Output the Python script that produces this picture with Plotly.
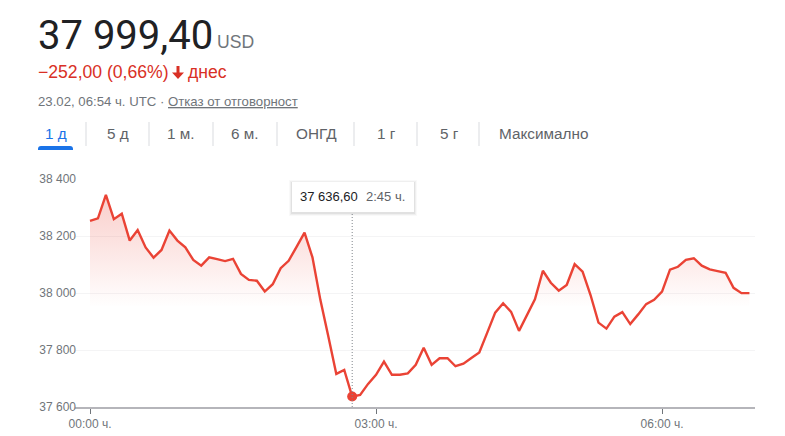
import pandas as pd
import plotly.graph_objects as go

# prices every 5 min
prices = [38253, 38262, 38344, 38259, 38278, 38184, 38221, 38160, 38124, 38151,
          38219, 38184, 38160, 38116, 38096, 38125, 38119, 38112, 38120, 38067,
          38046, 38043, 38005, 38031, 38087, 38113, 38162, 38212, 38125, 37975,
          37847, 37716, 37730, 37636.6, 37642, 37681, 37713, 37759, 37713, 37713,
          37718, 37748, 37808, 37748, 37771, 37771, 37743, 37752, 37772, 37791,
          37861, 37931, 37964, 37934, 37867, 37923, 37978, 38078, 38036, 38008,
          38028, 38101, 38075, 37993, 37896, 37875, 37917, 37933, 37891, 37925,
          37961, 37976, 38005, 38082, 38092, 38116, 38122, 38096, 38083, 38077,
          38071, 38018, 37999.4, 37999.4]
times = pd.date_range('2022-02-23 00:00', periods=len(prices), freq='5min')
y_ticks = [37600, 37800, 38000, 38200, 38400]
y_labels = ['37 600', '37 800', '38 000', '38 200', '38 400']
x_ticks = ['2022-02-23 00:00', '2022-02-23 03:00', '2022-02-23 06:00']
x_labels = ['00:00 ч.', '03:00 ч.', '06:00 ч.']
tabs = ['1 д', '5 д', '1 м.', '6 м.', 'ОНГД', '1 г', '5 г', 'Максимално']
tab_centers = [56, 118, 181, 245, 316, 386, 449, 543]
tab_separators = [86, 149, 213, 277, 354, 417, 479]
hover_index = 33

W, H = 785, 436
LEFT, RIGHT, TOP, BOTTOM = 75, 755, 179, 407
RED = '#ea4335'
TEXT_FONT = 'Liberation Sans'


def px(x):
    return (x - LEFT) / (RIGHT - LEFT)


def py(y):
    return (BOTTOM - y) / (BOTTOM - TOP)


def label(fig, x, y, text, size, color, anchor='left', font=TEXT_FONT):
    fig.add_annotation(x=px(x), y=py(y), xref='paper', yref='paper', text=text,
                       showarrow=False, xanchor=anchor, yanchor='middle',
                       font=dict(size=size, color=color, family=font),
                       borderpad=0, borderwidth=0)


def rect(fig, x0, y0, x1, y1, color, line='rgba(0,0,0,0)'):
    fig.add_shape(type='rect', xref='paper', yref='paper',
                  x0=px(x0), x1=px(x1), y0=py(y0), y1=py(y1),
                  fillcolor=color, line=dict(color=line, width=0), layer='above')


fig = go.Figure()

# invisible baseline so the gradient stops at the axis
fig.add_trace(go.Scatter(x=times, y=[y_ticks[0]] * len(prices), mode='lines',
                         line=dict(width=0), hoverinfo='skip', showlegend=False))
fig.add_trace(go.Scatter(
    x=times, y=prices, mode='lines', fill='tonexty',
    fillgradient=dict(type='vertical', colorscale=[
        [0, 'rgba(234,67,53,0)'], [0.47, 'rgba(234,67,53,0)'], [1, 'rgba(234,67,53,0.26)']]),
    line=dict(color=RED, width=2.4), showlegend=False))

# hover line and dot
fig.add_trace(go.Scatter(x=[times[hover_index]], y=[prices[hover_index]], mode='markers',
                         marker=dict(color=RED, size=10), showlegend=False))
fig.add_shape(type='line', xref='x', yref='paper', x0=times[hover_index], x1=times[hover_index],
              y0=0, y1=py(212), line=dict(color='#80868b', width=1, dash='1px,2px'))

# tooltip, stacked rects stand in for the shadow
for grow, alpha in [(3, 0.03), (2, 0.05), (1, 0.08)]:
    rect(fig, 292 - grow, 182 - grow + 1, 414 + grow, 212 + grow + 1, f'rgba(60,64,67,{alpha})')
rect(fig, 292, 182, 414, 212, 'white')
label(fig, 300, 196.5, '37 636,60', 13, '#202124')
label(fig, 366, 196.5, '2:45 ч.', 13, '#5f6368')

# header
label(fig, 38, 35, '37 999,40', 40, '#202124', font='Roboto')
label(fig, 217, 42, 'USD', 17.6, '#70757a')
label(fig, 38, 72, '−252,00 (0,66%)', 17.6, '#d93025')
fig.add_shape(type='path', xref='paper', yref='paper', layer='above', line=dict(width=0),
              fillcolor='#d93025',
              path=f'M {px(176.5)} {py(66)} L {px(179.5)} {py(66)} L {px(179.5)} {py(72.5)} '
                   f'L {px(184)} {py(72.5)} L {px(178)} {py(79)} L {px(172)} {py(72.5)} '
                   f'L {px(176.5)} {py(72.5)} Z')
label(fig, 188, 72, 'днес', 17.6, '#d93025')
label(fig, 38, 101, '23.02, 06:54 ч. UTC · <u>Отказ от отговорност</u>', 13.2, '#70757a')

# range tabs
for i, (tab, cx) in enumerate(zip(tabs, tab_centers)):
    label(fig, cx, 133.5, tab, 15.3, '#1a73e8' if i == 0 else '#5f6368', anchor='center')
for sx in tab_separators:
    rect(fig, sx - 0.5, 122, sx + 0.5, 146, '#dadce0')
fig.add_shape(type='path', xref='paper', yref='paper', layer='above', line=dict(width=0),
              fillcolor='#1a73e8',
              path=f'M {px(38)} {py(150)} L {px(38)} {py(149)} Q {px(38)} {py(146)} {px(41)} {py(146)} '
                   f'L {px(70)} {py(146)} Q {px(73)} {py(146)} {px(73)} {py(149)} L {px(73)} {py(150)} Z')

x_start = times[0] + pd.Timedelta(minutes=(LEFT - 90) / 1.589)
x_end = times[0] + pd.Timedelta(minutes=(RIGHT - 90) / 1.589)

fig.update_layout(
    width=W, height=H, autosize=False,
    margin=dict(l=LEFT, r=W - RIGHT, t=TOP, b=H - BOTTOM, autoexpand=False),
    paper_bgcolor='white', plot_bgcolor='white',
    showlegend=False, hovermode=False,
    font=dict(family=TEXT_FONT, size=12, color='#70757a'),
    xaxis=dict(type='date', range=[x_start, x_end], tickmode='array', tickvals=x_ticks,
               ticktext=x_labels, showgrid=False, zeroline=False, ticks='outside', ticklen=5,
               tickwidth=1, tickcolor='#70757a', showline=True, linecolor='#b5b5ba', linewidth=2,
               automargin=False, tickfont=dict(size=12, color='#70757a')),
    yaxis=dict(range=[y_ticks[0], y_ticks[-1]], tickmode='array', tickvals=y_ticks,
               ticktext=y_labels, showgrid=True, gridcolor='#f4f4f5', gridwidth=1, zeroline=False,
               ticks='', showline=False, ticklabelstandoff=-2, automargin=False,
               tickfont=dict(size=12, color='#70757a')),
)

# page margin would push the figure 8px off
fig.write_html("out.html", config=dict(displayModeBar=False),
               post_script="document.body.style.margin='0';")
